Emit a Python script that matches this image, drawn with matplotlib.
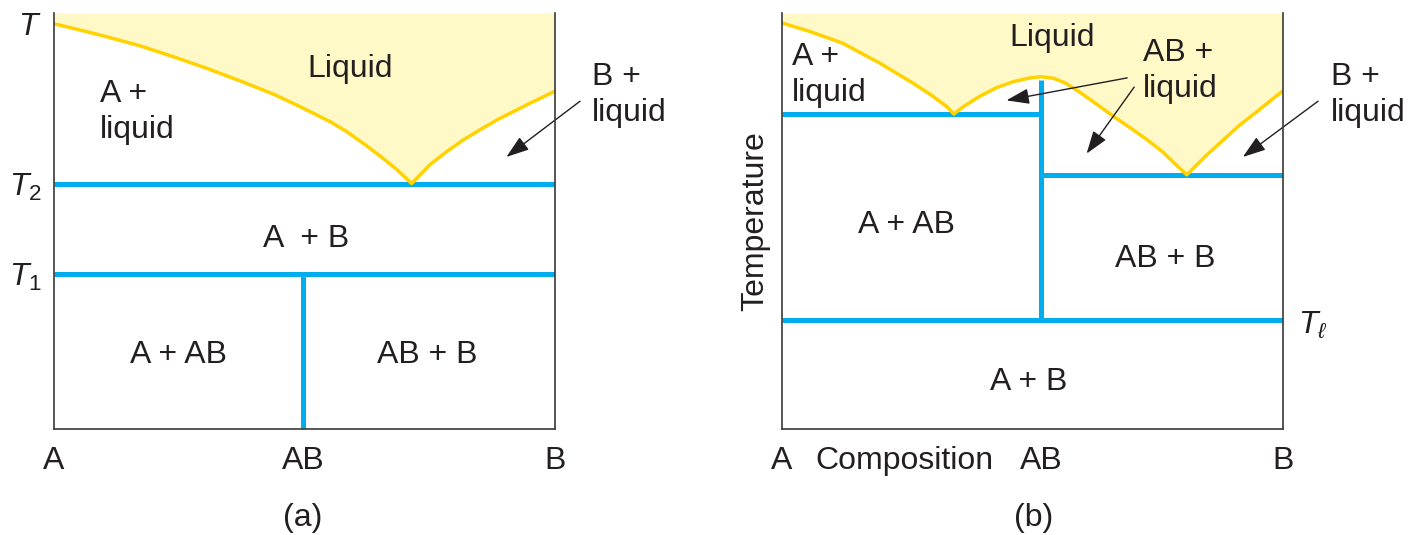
import matplotlib
matplotlib.use("Agg")
from matplotlib import pyplot as plt

plt.rcParams['font.family'] = ['Liberation Sans', 'DejaVu Sans']
plt.rcParams['mathtext.fontset'] = 'custom'
plt.rcParams['mathtext.it'] = 'Liberation Sans:italic'
plt.rcParams['mathtext.rm'] = 'Liberation Sans'

FILL = '#fff9c8'
GOLD = '#ffd200'
BLUE = '#00aeef'
INK = '#231f20'
BOX = '#3a3a3a'
FS = 23

# composition in % B (0 = A, 100 = B), temperature in arbitrary units (0-100)

# (a) compound AB only stable below T1, simple eutectic A-B at T2
a_liq_x = [0, 3.9, 10.5, 17.2, 23.8, 30.5, 37.1, 43.8, 49.1, 55.1, 58.4, 61.7, 65.1, 68.4, 71.4,
           75.0, 78.4, 81.7, 85.0, 88.4, 91.7, 95.0, 100]
a_liq_T = [97.4, 96.3, 94.3, 92.1, 89.5, 86.7, 83.7, 80.5, 77.5, 73.9, 71.5, 68.7, 65.6, 62.4, 59.0,
           63.5, 66.7, 69.5, 71.9, 74.3, 76.3, 78.3, 81.2]
a_T2 = 59.0
a_T1 = 37.3
a_AB = 49.7
a_ticks = ['A', 'AB', 'B']

# (b) congruently melting compound AB, two eutectics, AB decomposes at T_l
b_liq_x = [0, 5.2, 12.0, 19.6, 22.9, 26.2, 29.5, 32.9, 34.3,
           36.2, 39.5, 42.9, 46.2, 49.5, 51.7, 54.2, 56.5, 59.5,
           62.9, 66.1, 69.5, 72.9, 76.0, 78.4, 80.8,
           84.8, 88.1, 91.4, 94.8, 98.1, 100]
b_liq_T = [97.6, 95.7, 92.8, 87.9, 85.5, 83.1, 80.5, 77.5, 75.7,
           77.5, 80.0, 82.1, 83.5, 84.4, 84.7, 84.3, 83.2, 80.9,
           78.0, 75.2, 72.4, 69.5, 66.6, 63.8, 61.1,
           65.9, 69.5, 73.1, 76.3, 79.5, 81.3]
b_AB = 51.7
b_peak = 84.7
b_eut1 = 75.7
b_eut2 = 61.1
b_Tl = 26.2
b_ticks = ['A', 'Composition', 'AB', 'B']


def setup_axes(ax):
    ax.set_xlim(0, 100)
    ax.set_ylim(0, 100)
    ax.spines['top'].set_visible(False)
    for side in ['left', 'right', 'bottom']:
        ax.spines[side].set_color(BOX)
        ax.spines[side].set_linewidth(1.2)
        ax.spines[side].set_zorder(5)
    ax.tick_params(length=0, labelsize=FS, colors=INK)
    ax.tick_params(axis='x', pad=12)
    ax.tick_params(axis='y', pad=9)


def arrow(ax, tail, head):
    ax.annotate('', xy=head, xytext=tail, annotation_clip=False,
                arrowprops=dict(arrowstyle='-|>,head_length=0.7,head_width=0.24',
                                mutation_scale=20, color=INK, lw=1.0,
                                shrinkA=0, shrinkB=0))


def label(ax, x, y, s, ha='center'):
    # y is the baseline of the last line
    ax.text(x, y, s, ha=ha, va='baseline', fontsize=FS, color=INK, linespacing=1.28)


fig = plt.figure(figsize=(14.1, 5.35), dpi=100)
ax_a = fig.add_axes([54 / 1410, 106 / 535, 501 / 1410, 416 / 535])
ax_b = fig.add_axes([782 / 1410, 106 / 535, 501 / 1410, 416 / 535])

# ---- panel (a)
setup_axes(ax_a)
ax_a.fill_between(a_liq_x, a_liq_T, 100, color=FILL, lw=0, zorder=1)
ax_a.plot([0, 100], [a_T2, a_T2], color=BLUE, lw=3.6, solid_capstyle='butt', zorder=2)
ax_a.plot([0, 100], [a_T1, a_T1], color=BLUE, lw=3.6, solid_capstyle='butt', zorder=2)
ax_a.plot([a_AB, a_AB], [0, a_T1], color=BLUE, lw=3.6, solid_capstyle='butt', zorder=2)
ax_a.plot(a_liq_x, a_liq_T, color=GOLD, lw=2.5, zorder=3)

ax_a.set_xticks([0, a_AB, 100], a_ticks)
ax_a.set_yticks([a_liq_T[0], a_T2, a_T1], ['$T$', '$T_2$', '$T_1$'])

label(ax_a, 59.1, 84.6, 'Liquid')
label(ax_a, 9.2, 69.9, 'A +\nliquid', ha='left')
label(ax_a, 107.4, 74.0, 'B +\nliquid', ha='left')
label(ax_a, 50.3, 43.75, 'A  + B')
label(ax_a, 24.9, 15.9, 'A + AB')
label(ax_a, 74.6, 15.9, 'AB + B')
arrow(ax_a, (105.0, 78.8), (90.3, 65.4))
ax_a.text(49.7, -21.4, '(a)', ha='center', va='center', fontsize=FS, color=INK)

# ---- panel (b)
setup_axes(ax_b)
ax_b.fill_between(b_liq_x, b_liq_T, 100, color=FILL, lw=0, zorder=1)
ax_b.plot([0, b_AB], [b_eut1, b_eut1], color=BLUE, lw=3.6, solid_capstyle='butt', zorder=2)
ax_b.plot([b_AB, 100], [b_eut2, b_eut2], color=BLUE, lw=3.6, solid_capstyle='butt', zorder=2)
ax_b.plot([0, 100], [b_Tl, b_Tl], color=BLUE, lw=3.6, solid_capstyle='butt', zorder=2)
ax_b.plot([b_AB, b_AB], [b_Tl, b_peak - 0.8], color=BLUE, lw=3.6, solid_capstyle='butt', zorder=2)
ax_b.plot(b_liq_x, b_liq_T, color=GOLD, lw=2.5, zorder=3)

ax_b.set_xticks([0, 24.5, b_AB, 100], b_ticks)
ax_b.set_yticks([])
ax_b.text(-0.054, 0.5, 'Temperature', transform=ax_b.transAxes, rotation=90,
          ha='center', va='center', fontsize=FS, color=INK)
ax_b.text(103, b_Tl - 1.2, r'$T_\ell$', ha='left', va='center', fontsize=FS, color=INK)

label(ax_b, 53.9, 92.1, 'Liquid')
label(ax_b, 2.0, 78.8, 'A +\nliquid', ha='left')
label(ax_b, 72.1, 79.8, 'AB +\nliquid', ha='left')
label(ax_b, 109.6, 74.0, 'B +\nliquid', ha='left')
label(ax_b, 24.8, 47.1, 'A + AB')
label(ax_b, 76.5, 38.9, 'AB + B')
label(ax_b, 49.3, 9.4, 'A + B')
arrow(ax_b, (68.9, 84.4), (44.8, 79.0))
arrow(ax_b, (70.3, 82.2), (60.8, 66.2))
arrow(ax_b, (107.0, 78.8), (92.0, 65.4))
ax_b.text(50.2, -21.4, '(b)', ha='center', va='center', fontsize=FS, color=INK)

fig.savefig('out.png', dpi=100)
plt.close(fig)
